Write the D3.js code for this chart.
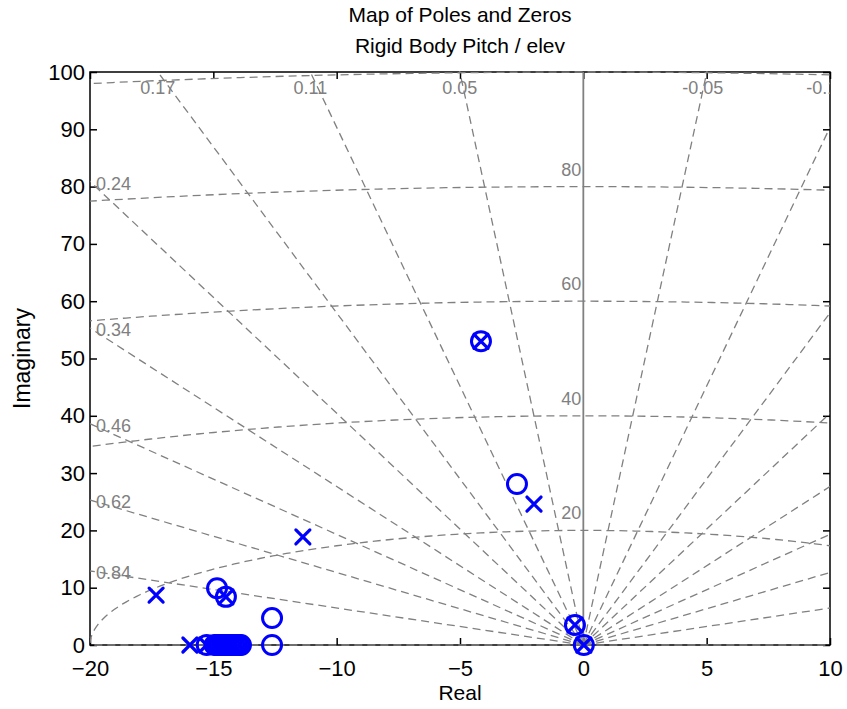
<!DOCTYPE html>
<html>
<head>
<meta charset="utf-8">
<script src="https://cdn.jsdelivr.net/npm/d3@7"></script>
<style>
  body { margin: 0; background: #fff; }
  svg { font-family: "Liberation Sans", Arial, sans-serif; }
</style>
</head>
<body>
<svg width="847" height="709"></svg>
<script>
// pole / zero locations
const zeroRe = [-4.15, -2.69, -14.85, -14.49, -12.62, -12.62, -0.34, 0.02,
                -15.27, -14.95, -14.85, -14.75, -14.65, -14.55, -14.45, -14.35,
                -14.25, -14.15, -14.05, -13.95, -13.88];
const zeroIm = [53.0, 28.1, 9.9, 8.4, 4.7, 0, 3.5, 0,
                0, 0, 0, 0, 0, 0, 0, 0,
                0, 0, 0, 0, 0];
const poleRe = [-4.15, -2.0, -11.37, -17.32, -14.49, -0.34, 0.02, -15.95,
                -15.27, -14.9, -14.6, -14.3];
const poleIm = [53.0, 24.6, 18.85, 8.7, 8.4, 3.5, 0, 0,
                0, 0, 0, 0];

// grid: damping ratios and natural frequencies
const zetas = [0.05, 0.11, 0.17, 0.24, 0.34, 0.46, 0.62, 0.84];
const wns = [20, 40, 60, 80, 100];
const xTicks = [-20, -15, -10, -5, 0, 5, 10];
const yTicks = [0, 10, 20, 30, 40, 50, 60, 70, 80, 90, 100];

const GRID = '#808080';
const BLUE = '#0000ff';

const svg = d3.select('svg');
const L = 90, R = 830, T = 72, B = 645;

const x = d3.scaleLinear().domain([-20, 10]).range([L, R]);
const y = d3.scaleLinear().domain([0, 100]).range([B, T]);

svg.append('clipPath').attr('id', 'plot')
    .append('rect').attr('x', L).attr('y', T - 1).attr('width', R - L).attr('height', B - T + 2);

// box + ticks
svg.append('rect')
    .attr('x', L).attr('y', T).attr('width', R - L).attr('height', B - T)
    .attr('fill', 'none').attr('stroke', '#000').attr('stroke-width', 1.5);

function styleAxis(g) {
    g.select('.domain').remove();
    g.selectAll('.tick line').attr('stroke', '#000').attr('stroke-width', 1.5);
    g.selectAll('text').attr('fill', '#000').style('font-size', '22px');
}

svg.append('g').attr('transform', `translate(0,${B})`)
    .call(d3.axisBottom(x).tickValues(xTicks).tickSize(-7).tickPadding(15).tickFormat(d3.format('d')))
    .call(styleAxis);
svg.append('g').attr('transform', `translate(0,${T})`)
    .call(d3.axisTop(x).tickValues(xTicks).tickSize(-7).tickFormat(''))
    .call(styleAxis);
svg.append('g').attr('transform', `translate(${L},0)`)
    .call(d3.axisLeft(y).tickValues(yTicks).tickSize(-7).tickPadding(5).tickFormat(d3.format('d')))
    .call(styleAxis);
svg.append('g').attr('transform', `translate(${R},0)`)
    .call(d3.axisRight(y).tickValues(yTicks).tickSize(-7).tickFormat(''))
    .call(styleAxis);

// grid
const grid = svg.append('g').attr('clip-path', 'url(#plot)');
const far = 400;

// damping rays, both half planes, plus the real axis
const rays = zetas.concat(zetas.map(z => -z)).concat([1, -1]);
grid.selectAll('line.zeta')
    .data(rays)
    .enter()
    .append('line')
    .attr('class', 'zeta')
    .attr('x1', x(0)).attr('y1', y(0))
    .attr('x2', d => x(-d * far))
    .attr('y2', d => y(Math.sqrt(1 - d * d) * far))
    .attr('stroke', GRID)
    .attr('stroke-width', 1.3)
    .attr('stroke-dasharray', '8,5');

// zero damping: solid
grid.append('line')
    .attr('x1', x(0)).attr('x2', x(0)).attr('y1', y(0)).attr('y2', y(100))
    .attr('stroke', GRID).attr('stroke-width', 1.8);

// natural frequency circles
const arc = d3.line()
    .x(d => x(d[0]))
    .y(d => y(d[1]));
const angles = d3.range(0, 181).map(a => a * Math.PI / 180);
grid.selectAll('path.wn')
    .data(wns)
    .enter()
    .append('path')
    .attr('class', 'wn')
    .attr('d', w => arc(angles.map(a => [w * Math.cos(a), w * Math.sin(a)])))
    .attr('fill', 'none')
    .attr('stroke', GRID)
    .attr('stroke-width', 1.3)
    .attr('stroke-dasharray', '8,5');

// damping labels: along the top edge, else at the left edge
const labels = grid.append('g').style('font-size', '18px').attr('fill', GRID);
zetas.forEach(z => {
    const s = Math.sqrt(1 - z * z);
    const xTop = -100 * z / s;
    if (xTop >= -20) {
        labels.append('text')
            .attr('x', x(xTop))
            .attr('y', T + 16)
            .attr('dy', '0.35em')
            .attr('text-anchor', 'middle')
            .text(String(z));
    } else {
        labels.append('text')
            .attr('x', L + 6)
            .attr('y', y(20 * s / z) + 2)
            .attr('dy', '0.35em')
            .text(String(z));
    }
});
// right half plane: only the first two reach the top
[-0.05, -0.11].forEach(z => {
    const xTop = -100 * z / Math.sqrt(1 - z * z);
    labels.append('text')
        .attr('x', x(Math.min(xTop, 10)) - 4)
        .attr('y', T + 16)
        .attr('dy', '0.35em')
        .attr('text-anchor', 'middle')
        .text(String(z));
});

// frequency labels
labels.selectAll('text.wn')
    .data(wns)
    .enter()
    .append('text')
    .attr('class', 'wn')
    .attr('x', x(0) - 2)
    .attr('y', w => y(w) - 11)
    .attr('text-anchor', 'end')
    .text(w => w);

// markers
const marks = svg.append('g');
marks.selectAll('circle')
    .data(d3.range(zeroRe.length))
    .enter()
    .append('circle')
    .attr('cx', i => x(zeroRe[i]))
    .attr('cy', i => y(zeroIm[i]))
    .attr('r', 9.5)
    .attr('fill', 'none')
    .attr('stroke', BLUE)
    .attr('stroke-width', 3);

const h = 7;
marks.selectAll('path.pole')
    .data(d3.range(poleRe.length))
    .enter()
    .append('path')
    .attr('class', 'pole')
    .attr('d', i => {
        const cx = x(poleRe[i]), cy = y(poleIm[i]);
        return `M${cx - h},${cy - h}L${cx + h},${cy + h}M${cx - h},${cy + h}L${cx + h},${cy - h}`;
    })
    .attr('stroke', BLUE)
    .attr('stroke-width', 3.2)
    .attr('stroke-linecap', 'round');

// titles
svg.append('text')
    .attr('x', (L + R) / 2).attr('y', 15).attr('dy', '0.35em')
    .attr('text-anchor', 'middle').style('font-size', '21px')
    .text('Map of Poles and Zeros');
svg.append('text')
    .attr('x', (L + R) / 2).attr('y', 46).attr('dy', '0.35em')
    .attr('text-anchor', 'middle').style('font-size', '21px')
    .text('Rigid Body Pitch / elev');
svg.append('text')
    .attr('x', (L + R) / 2).attr('y', 693).attr('dy', '0.35em')
    .attr('text-anchor', 'middle').style('font-size', '21px')
    .text('Real');
svg.append('text')
    .attr('transform', `translate(22,${(T + B) / 2}) rotate(-90)`)
    .attr('dy', '0.35em')
    .attr('text-anchor', 'middle').style('font-size', '23px')
    .text('Imaginary');
</script>
</body>
</html>
